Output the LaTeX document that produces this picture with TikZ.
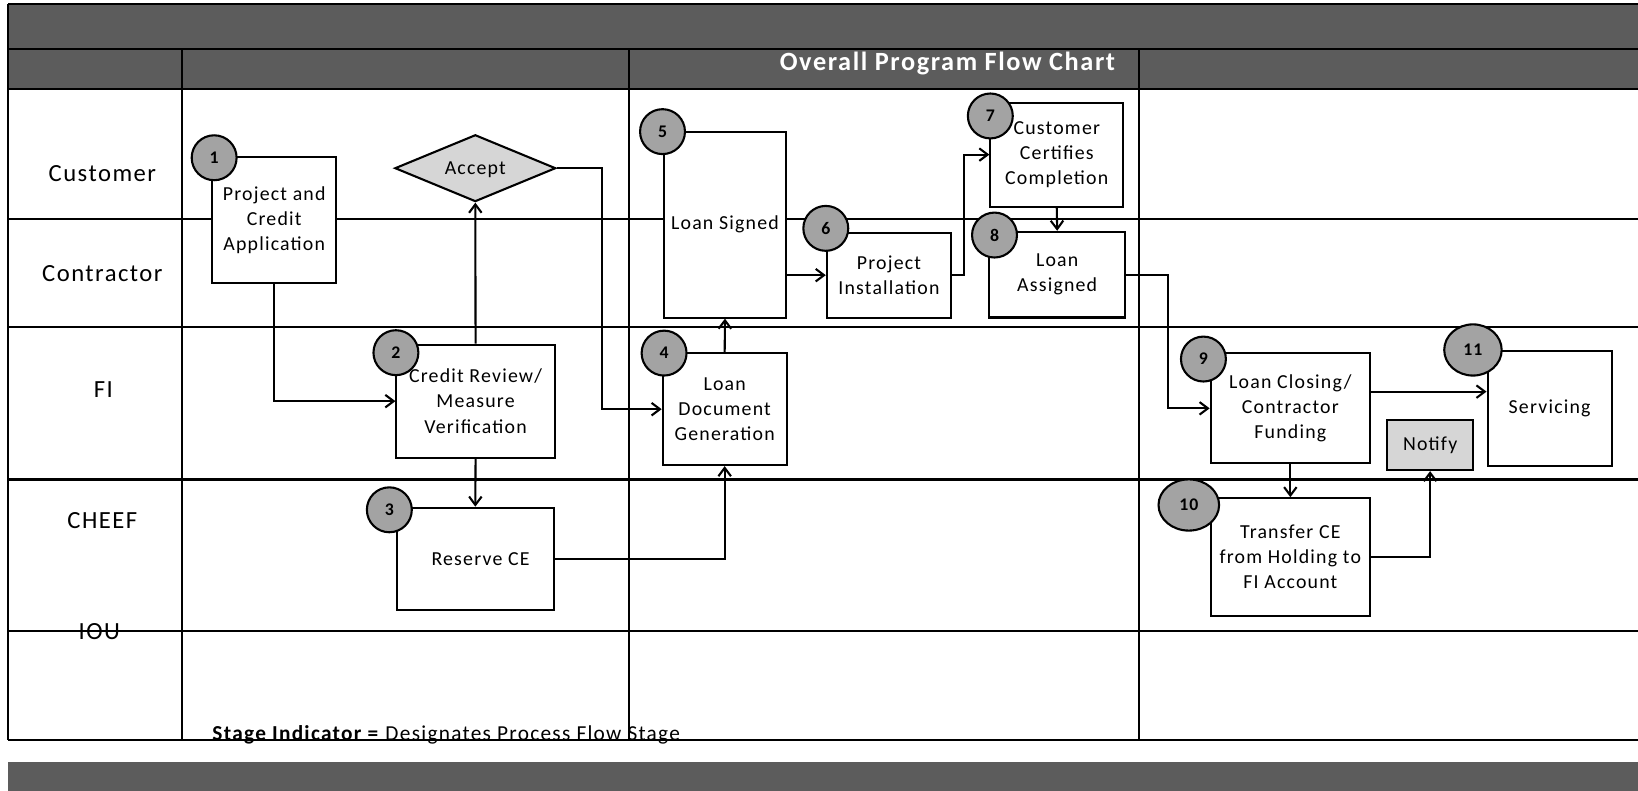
\documentclass[tikz,border=0pt]{standalone}
\usepackage{fontspec}
\setmainfont{Carlito}[LetterSpace=6]
\usetikzlibrary{arrows.meta,shapes.geometric,calc}

\definecolor{bandgray}{gray}{0.36}
\definecolor{stagegray}{gray}{0.64}
\definecolor{notegray}{gray}{0.84}

\begin{document}
\begin{tikzpicture}[x=0.5pt,y=-0.5pt,
  rule/.style={line width=1pt},
  box/.style={draw, line width=1pt, fill=white, rectangle, inner sep=0pt,
    align=center, font=\fontsize{9.5}{12}\selectfont},
  stage/.style={draw, line width=1pt, fill=stagegray, circle, inner sep=0pt,
    minimum size=21.5pt, font=\fontsize{8.5}{10}\bfseries},
  stagewide/.style={draw, line width=1pt, fill=stagegray, ellipse, inner sep=0pt,
    minimum width=29pt, minimum height=24.5pt, font=\fontsize{8.5}{10}\bfseries},
  flow/.style={line width=1pt, -{Straight Barb[length=4pt,width=6pt]}},
  lane/.style={font=\fontsize{11.8}{14}\selectfont},
]
\useasboundingbox (0,0) rectangle (1568,757);
\clip (0,0) rectangle (1568,757);

% banners
\fill[bandgray] (8,4) rectangle (1590,85);
\fill[bandgray] (8,729) rectangle (1590,770);

% swimlane grid
\foreach \yy in {4,47,85,210,313,459,604,708}
  \draw[rule] (8,\yy) -- (1590,\yy);
\draw[rule] (8,4) -- (8,708);
\foreach \xx in {174,602,1090}
  \draw[rule] (\xx,47) -- (\xx,708);

\node[font=\fontsize{12.6}{14}\bfseries, text=white] (title) at (907,61) {Overall Program Flow Chart};

% lane labels
\node[lane] (lcust) at (98,166) {Customer};
\node[lane] (lcont) at (98,262) {Contractor};
\node[lane] (lfi) at (99,373) {FI};
\node[lane] (lcheef) at (98,498) {CHEEF};
\node[lane] (liou) at (95,605) {IOU};

% process boxes
\node[box, minimum width=59.5pt, minimum height=60.5pt] (b1) at (262.5,210.5) {Project and\\Credit\\Application};
\node[draw, line width=1pt, fill=notegray, diamond, aspect=2.4, minimum width=77pt,
  minimum height=32pt, inner sep=0pt, text depth=0pt, font=\fontsize{9.5}{12}\selectfont] (acc) at (455,161) {Accept};
\node[box, minimum width=75.75pt, minimum height=54pt] (b2) at (455.25,384) {Credit Review/\\Measure\\Verification};
\node[box, minimum width=75pt, minimum height=49pt] (b3) at (455,535) {\hspace*{5pt}Reserve CE};
\node[box, minimum width=59.3pt, minimum height=53.5pt] (b4) at (693.7,391.7) {Loan\\Document\\Generation};
\node[box, minimum width=58.75pt, minimum height=89pt] (b5) at (694,215) {Loan Signed};
\node[box, minimum width=59.5pt, minimum height=40.65pt] (b6) at (851,263.4) {Project\\Installation};
\node[box, minimum width=63.5pt, minimum height=49.75pt] (b7) at (1011.6,148) {Customer\\Certifies\\Completion};
\node[box, minimum width=65pt, minimum height=41pt] (b8) at (1012,262.9) {Loan\\Assigned};
\node[box, minimum width=76.25pt, minimum height=52.7pt] (b9) at (1235.2,390.9) {Loan Closing/\\Contractor\\Funding};
\node[box, minimum width=76.25pt, minimum height=56.35pt] (b10) at (1235.2,533.3) {Transfer CE\\from Holding to\\FI Account};
\node[box, minimum width=59.4pt, minimum height=55pt] (b11) at (1483.4,390.7) {Servicing};
\node[box, fill=notegray, minimum width=41pt, minimum height=24pt] (nt) at (1369,426) {Notify};

% connectors
\draw[flow] (b1.south) |- (b2.west);
\draw[flow] (b2.north) -- (acc.south);
\draw[flow] (b2.south) -- (b3.north);
\draw[flow] (acc.east) -- ++(43,0) |- (b4.west);
\draw[flow] (b3.east) -| (b4.south);
\draw[flow] (b4.north) -- (b5.south);
\draw[flow] (b5.east |- b6.west) -- (b6.west);
\draw[flow] (b6.east) -- ++(11,0) |- (b7.west);
\draw[flow] (b7.south) -- (b8.north);
\draw[flow] (b8.east) -- ++(40,0) |- (b9.west);
\draw[flow] ($(b9.east)+(0,-16)$) coordinate (p9) -- (p9 -| b11.west);
\draw[flow] (b9.south) -- (b10.north);
\draw[flow] (b10.east) -| (nt.south);

% stage indicators
\node[stage] (s1) at (205,151) {1};
\node[stage] (s2) at (379,337.6) {2};
\node[stage] (s3) at (372.7,488) {3};
\node[stage] (s4) at (635.7,338) {4};
\node[stage] (s5) at (634.2,126) {5};
\node[stage] (s6) at (790.5,218.6) {6};
\node[stage] (s7) at (948,111) {7};
\node[stage] (s8) at (952,225) {8};
\node[stage] (s9) at (1152,343.7) {9};
\node[stagewide] (s10) at (1138,483.4) {10};
\node[stagewide, minimum width=27.5pt] (s11) at (1410,335) {11};

% legend
\node[anchor=base west, inner sep=0pt, font=\fontsize{10.2}{12}\selectfont] (legend) at (203,709)
  {\textbf{Stage Indicator =} Designates Process Flow Stage};
\draw[rule] (174,708) -- (1090,708);
\end{tikzpicture}
\end{document}
